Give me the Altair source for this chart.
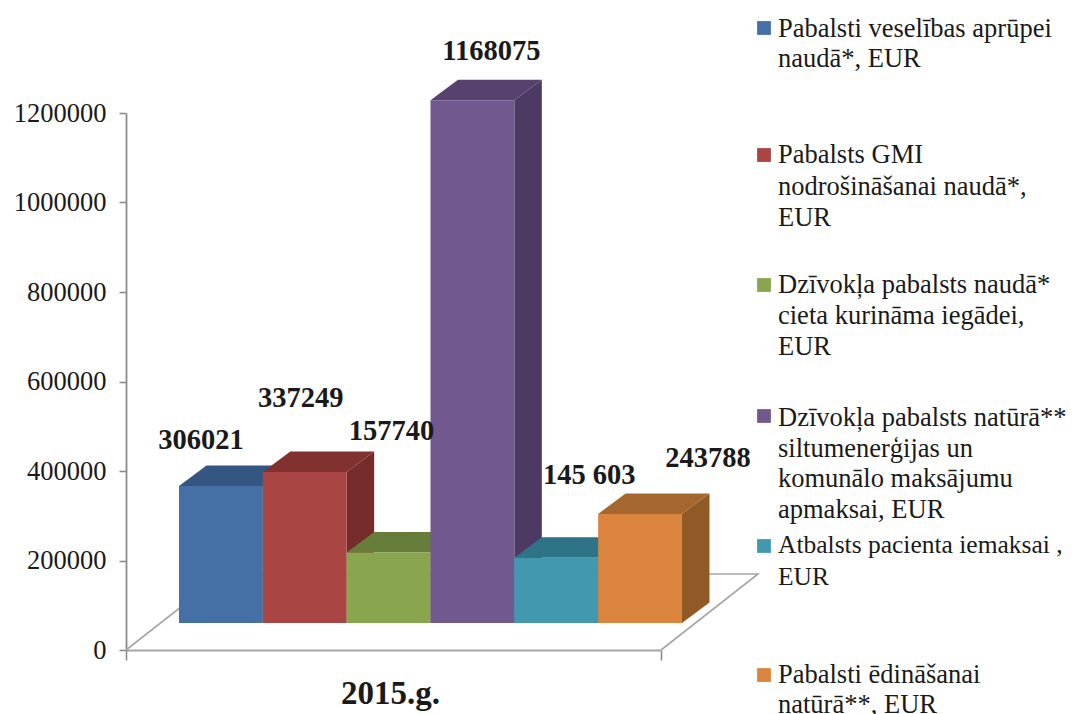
import altair as alt
import pandas as pd

FONT = "Liberation Serif"

# Values
values = [306021, 337249, 157740, 1168075, 145603, 243788]
value_labels = ["306021", "337249", "157740", "1168075", "145 603", "243788"]
year_label = "2015.g."
y_ticks = [0, 200000, 400000, 600000, 800000, 1000000, 1200000]

legend_labels = [
    ["Pabalsti veselības aprūpei", "naudā*, EUR"],
    ["Pabalsts GMI", "nodrošināšanai naudā*,", "EUR"],
    ["Dzīvokļa pabalsts naudā*", "cieta kurināma iegādei,", "EUR"],
    ["Dzīvokļa pabalsts natūrā**", "siltumenerģijas un", "komunālo maksājumu", "apmaksai, EUR"],
    ["Atbalsts pacienta iemaksai ,", "EUR"],
    ["Pabalsti ēdināšanai", "natūrā**, EUR"],
]

# Styles
front_colors = ["#4570A6", "#A94543", "#89A54E", "#71588F", "#4198AF", "#DB843D"]
top_colors = ["#345681", "#813130", "#677D3A", "#56416F", "#2F7387", "#A6672E"]
side_colors = ["#345681", "#762C2A", "#677D3A", "#4D3A64", "#2F7387", "#8F5A25"]
axis_color = "#8C8C8C"
floor_color = "#A6A6A6"
text_color = "#1A1A1A"

# Layout (pixels)
W, H = 1061, 706
PLOT_W, PLOT_H = 535, 537
PAD_L, PAD_T = 118, 105
legend_swatch_xy = [(638, -85), (638, 42), (638, 172), (638, 303), (638, 433), (638, 562)]
legend_text_xy = [(652, -97), (652, 29), (652, 159), (652, 292), (652, 420), (652, 549)]
legend_line_h = [30, 31.5, 31, 30.5, 32, 30]
legend_font = [26.5, 26.5, 26.5, 26.5, 25.5, 26.5]
label_dx = [-20, -4, 3, 19, 33, 68]
label_dy = [-46, -74, -121, -49, -83, -56]

# Scale helpers: bars are one category unit wide, depth expressed in data units
unit_px = 83.83
x_min = -53 / unit_px
x_max = x_min + PLOT_W / unit_px
per_px = 1200000 / PLOT_H
base = 27 * per_px          # the bars stand on the floor, 27 px above zero
depth_x = 27.5 / unit_px
depth_y = 20.5 * per_px
floor_dx = 97 / unit_px
floor_dy = 76 * per_px

x_scale = alt.Scale(domain=[x_min, x_max], nice=False, zero=False)
y_scale = alt.Scale(domain=[0, 1200000], nice=False, zero=False)

x_axis = alt.Axis(
    values=[x_min, x_max], labels=False, grid=False, tickSize=10, tickColor=axis_color,
    tickWidth=1.6, domainColor=floor_color, domainWidth=2.2,
    title=year_label, titleFont=FONT, titleFontSize=33, titleFontWeight="bold",
    titleColor=text_color, titleX=264, titleY=53, titleBaseline="alphabetic",
)
y_axis = alt.Axis(
    values=y_ticks, format="d", grid=False, title=None, tickSize=7, tickColor=axis_color,
    tickWidth=1.6, domainColor=axis_color, domainWidth=1.8, labelFont=FONT,
    labelFontSize=26.5, labelColor=text_color, labelPadding=13,
)


def X(field="x:Q"):
    return alt.X(field, scale=x_scale, axis=x_axis)


def Y(field="y:Q"):
    return alt.Y(field, scale=y_scale, axis=y_axis)


layers = []

# Floor outline
floor = pd.DataFrame({
    "x": [x_min, x_min + floor_dx, x_max + floor_dx, x_max],
    "y": [0, floor_dy, floor_dy, 0],
    "o": [0, 1, 2, 3],
})
layers.append(
    alt.Chart(floor).mark_line(color=floor_color, strokeWidth=1.6).encode(x=X(), y=Y(), order="o:Q")
)

# Bars, drawn left to right: side, top, front
for i, v in enumerate(values):
    t = base + v
    side = pd.DataFrame({
        "x": [i + 1, i + 1 + depth_x],
        "y": [t, t + depth_y],
        "y2": [base, base + depth_y],
    })
    top = pd.DataFrame({
        "x": [i, i + depth_x, i + 1, i + 1 + depth_x],
        "y": [t, t + depth_y, t + depth_y, t + depth_y],
        "y2": [t, t, t, t + depth_y],
    })
    front = pd.DataFrame({"x": [i], "x2": [i + 1], "y": [t], "y2": [base]})
    layers.append(alt.Chart(side).mark_area(color=side_colors[i], line=False, interpolate="linear").encode(
        x=X(), y=Y(), y2="y2:Q"))
    layers.append(alt.Chart(top).mark_area(color=top_colors[i], line=False, interpolate="linear").encode(
        x=X(), y=Y(), y2="y2:Q"))
    layers.append(alt.Chart(front).mark_rect(color=front_colors[i]).encode(
        x=X(), x2="x2:Q", y=Y(), y2="y2:Q"))

# Value labels
labels = pd.DataFrame({
    "x": [i + 0.5 for i in range(len(values))],
    "y": [base + v for v in values],
    "t": value_labels,
})
for i in range(len(values)):
    layers.append(
        alt.Chart(labels.iloc[[i]]).mark_text(
            font=FONT, fontSize=28.5, fontWeight="bold", color=text_color,
            dx=label_dx[i], dy=label_dy[i],
        ).encode(x=X(), y=Y(), text="t:N")
    )

# Legend, with the uneven spacing of the reference
for i, lines in enumerate(legend_labels):
    sx, sy = legend_swatch_xy[i]
    tx, ty = legend_text_xy[i]
    holder = pd.DataFrame({"a": [0]})
    layers.append(
        alt.Chart(holder).mark_square(color=front_colors[i], size=190, opacity=1).encode(
            x=alt.value(sx), y=alt.value(sy))
    )
    layers.append(
        alt.Chart(holder).mark_text(
            font=FONT, fontSize=legend_font[i], color=text_color, align="left", baseline="top",
            lineHeight=legend_line_h[i],
        ).encode(x=alt.value(tx), y=alt.value(ty), text=alt.value(lines))
    )

chart = alt.layer(*layers).properties(
    width=PLOT_W,
    height=PLOT_H,
    autosize=alt.AutoSizeParams(type="none"),
    padding={"left": PAD_L, "top": PAD_T, "right": W - PAD_L - PLOT_W, "bottom": H - PAD_T - PLOT_H},
    background="white",
).configure_view(stroke=None)

chart.save("out.html", embed_options={"renderer": "svg", "actions": False})
